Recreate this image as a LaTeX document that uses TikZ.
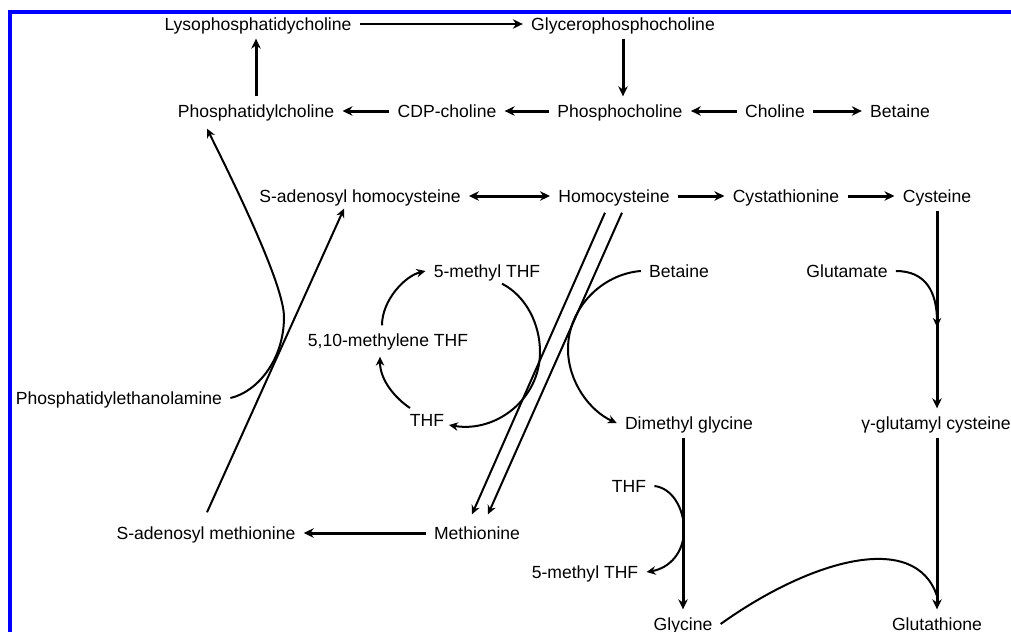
\documentclass[tikz,border=0pt]{standalone}
\usepackage{fontspec}
\setmainfont{Liberation Sans}
\usepackage{tikz}
\usetikzlibrary{arrows.meta,calc}
\definecolor{frm}{RGB}{0,0,255}
\tikzset{
  m/.style  ={inner xsep=1.6mm,inner ysep=1.6mm,text height=7.2pt,text depth=0pt},
  ar/.style ={-{Stealth[length=2mm,width=1.9mm]},line width=0.6mm},
  dar/.style={{Stealth[length=2mm,width=1.9mm]}-{Stealth[length=2mm,width=1.9mm]},line width=0.6mm},
  arn/.style={-{Stealth[length=1.8mm,width=1.7mm]},line width=0.4mm},
  ln/.style ={line width=0.4mm},
}
\begin{document}
\begin{tikzpicture}[x=0.02cm,y=-0.02cm,font=\fontsize{10}{12}\selectfont]
  \useasboundingbox (0,0) rectangle (1011,632);
  \draw[frm,line width=2.6pt] (1040,12) -- (10,12) -- (10,660);
  % choline branch
  \node[m] (LPC)  at (258,24)  {Lysophosphatidycholine};
  \node[m] (GPC)  at (623,24)  {Glycerophosphocholine};
  \node[m] (PC)   at (256,111) {Phosphatidylcholine};
  \node[m] (CDP)  at (447,111) {CDP-choline};
  \node[m] (PCho) at (620,111) {Phosphocholine};
  \node[m] (Cho)  at (775,111) {Choline};
  \node[m] (Bet1) at (900,111) {Betaine};
  % methionine cycle
  \node[m] (SAH)  at (360,196) {S-adenosyl homocysteine};
  \node[m] (Hcy)  at (614,196) {Homocysteine};
  \node[m] (Cth)  at (786,196) {Cystathionine};
  \node[m] (Cys)  at (937,196) {Cysteine};
  \node[m] (MTHF1) at (487,271) {5-methyl THF};
  \node[m] (Bet2) at (679,271) {Betaine};
  \node[m] (Glu)  at (847,271) {Glutamate};
  \node[m] (MeTHF) at (388,340) {5,10-methylene THF};
  \node[m] (PE)   at (119,398) {Phosphatidylethanolamine};
  \node[m] (THF1) at (427,420) {THF};
  \node[m] (DMG)  at (689,423) {Dimethyl glycine};
  \node[m,anchor=west] (GGC) at (853,423) {γ-glutamyl cysteine};
  \node[m] (THF2) at (629,486) {THF};
  \node[m] (SAM)  at (206,533) {S-adenosyl methionine};
  \node[m] (Met)  at (477,533) {Methionine};
  \node[m] (MTHF2) at (585,572) {5-methyl THF};
  \node[m] (Gly)  at (683,624) {Glycine};
  \node[m] (GSH)  at (937,624) {Glutathione};
  \coordinate (GluIn) at (937,327);
  \coordinate (GlyIn) at (937,596);

  \draw[ar] (LPC) -- (GPC);
  \draw[ar] (GPC.south) -- (GPC.south |- PCho.north);
  \draw[ar] (PCho) -- (CDP); \draw[ar] (CDP) -- (PC);
  \draw[ar] (Cho) -- (PCho); \draw[ar] (Cho) -- (Bet1);
  \draw[ar] (PC.north) -- (PC.north |- LPC.south);
  \draw[dar] (SAH) -- (Hcy); \draw[ar] (Hcy) -- (Cth); \draw[ar] (Cth) -- (Cys);
  \draw[ar] (Cys.south) -- (Cys.south |- GGC.north);
  \draw[arn] (Glu.east) .. controls +(30,0) and +(0,-35) .. (GluIn);
  \draw[ar] (DMG.south -| Gly.north) -- (Gly.north);
  \draw[ar] (Cys.south |- GGC.south) -- (Cys.south |- GSH.north);
  \draw[ln] (Gly.east) .. controls (810,560) and (915,530) .. (GlyIn);
  \draw[ar] (Met) -- (SAM);
  \draw[arn] ($(SAM.north)+(1,-6)$) -- ($(SAH.south)+(-16,-2)$);
  \draw[arn] (PE.east) .. controls (257,392) and (284,360) .. (284,317)
    .. controls (284,285) and (235,185) .. ($(PC.south)+(-49,3)$);
  \draw[arn] ($(Hcy.south)+(-9,2)$) -- ($(Met.north)+(-5,-4)$);
  \draw[arn] ($(Hcy.south)+(8,2)$) -- ($(Met.north)+(11,-4)$);
  % folate cycle
  \draw[arn] ($(MeTHF.north)+(-6,0)$) .. controls (382,300) and (405,276) .. (MTHF1.west);
  \draw[arn] ($(THF1.center)+(-17,-12)$) .. controls (395,398) and (380,380) .. ($(MeTHF.south)+(-8,2)$);
  \draw[arn] ($(MTHF1.south)+(15,-2)$) .. controls (526,296) and (540,324) .. (540,352)
    .. controls (540,399) and (496,433) .. ($(THF1.center)+(22,5)$);
  \draw[arn] (Bet2.west) .. controls (602,274) and (568,308) .. (568,349)
    .. controls (568,382) and (590,411) .. (DMG.west);
  \draw[arn] (THF2.east) .. controls (672,488) and (684,508) .. (684,530)
    .. controls (684,552) and (670,568) .. (MTHF2.east);
\end{tikzpicture}
\end{document}
